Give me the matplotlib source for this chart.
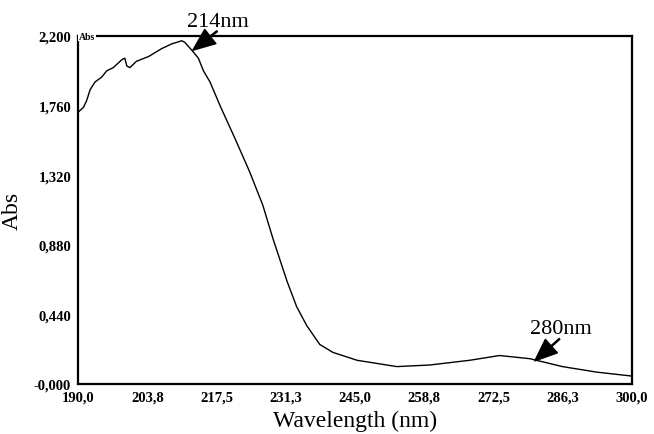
import matplotlib.pyplot as plt
from matplotlib.ticker import FixedLocator, FuncFormatter

# spectrum
wavelength = [190.1, 191.1, 191.7, 192.4, 193.4, 194.7, 195.7, 197.0, 198.7, 199.3,
              199.7, 200.3, 201.6, 204.0, 206.6, 208.6, 210.6, 211.2, 212.6, 213.9,
              214.9, 216.2, 218.2, 221.2, 224.1, 226.7, 228.7, 231.5, 233.4, 235.4,
              238.0, 240.6, 245.4, 253.3, 259.8, 267.8, 273.7, 279.7, 286.2, 293.0,
              300.0]
absorbance = [1.72, 1.75, 1.79, 1.86, 1.91, 1.94, 1.98, 2.00, 2.05, 2.06,
              2.01, 2.00, 2.04, 2.07, 2.12, 2.15, 2.17, 2.16, 2.11, 2.06,
              1.98, 1.91, 1.76, 1.55, 1.34, 1.13, 0.92, 0.65, 0.49, 0.37,
              0.25, 0.20, 0.15, 0.11, 0.12, 0.15, 0.18, 0.16, 0.11, 0.075,
              0.05]

x_ticks = [190.0, 203.75, 217.5, 231.25, 245.0, 258.75, 272.5, 286.25, 300.0]
y_ticks = [0.0, 0.44, 0.88, 1.32, 1.76, 2.2]

peak_labels = ['214nm', '280nm']
peak_tips = [(212.8, 2.11), (280.7, 0.146)]
arrow_tails = [(217.6, 2.23), (285.6, 0.285)]
label_pos = [(217.8, 2.29), (285.8, 0.35)]

serif = 'Liberation Serif'

fig = plt.figure(figsize=(6.54, 4.35), dpi=100)
ax = fig.add_axes([78 / 654, 1 - 385 / 435, 554 / 654, 348 / 435])

ax.plot(wavelength, absorbance, color='black', lw=1.0)

ax.set_xlim(190, 300)
ax.set_ylim(0, 2.2)
for s in ax.spines.values():
    s.set_linewidth(1.6)
    s.set_color('black')

ax.xaxis.set_major_locator(FixedLocator(x_ticks))
ax.yaxis.set_major_locator(FixedLocator(y_ticks))
ax.xaxis.set_major_formatter(FuncFormatter(lambda v, p: ('%.1f' % (v + 1e-6)).replace('.', ',')))
ax.yaxis.set_major_formatter(FuncFormatter(lambda v, p: ('-0,000' if v == 0 else ('%.3f' % v).replace('.', ','))))
ax.tick_params(length=0, pad=5)
for lab in ax.get_xticklabels() + ax.get_yticklabels():
    lab.set_fontfamily(serif)
    lab.set_fontweight('bold')
    lab.set_fontsize(10.5)

ax.set_xlabel('Wavelength (nm)', fontfamily=serif, fontsize=17, labelpad=4)
ax.set_ylabel('Abs', fontfamily=serif, fontsize=17, labelpad=8)

# tiny "Abs" tag sitting on the top-left corner
ax.text(0.002, 1.0, 'Abs', transform=ax.transAxes, fontfamily=serif, fontsize=7,
        fontweight='bold', va='center', ha='left',
        bbox=dict(facecolor='white', edgecolor='none', pad=0.5))

for lab, tip, tail, pos in zip(peak_labels, peak_tips, arrow_tails, label_pos):
    ax.annotate('', xy=tip, xytext=tail, annotation_clip=False,
                arrowprops=dict(facecolor='black', edgecolor='black', width=0.8,
                                headwidth=13, headlength=16, shrink=0.0))
    ax.text(pos[0], pos[1], lab, fontfamily=serif, fontsize=16,
            ha='center', va='center', clip_on=False)

fig.savefig('out.png', dpi=100)
